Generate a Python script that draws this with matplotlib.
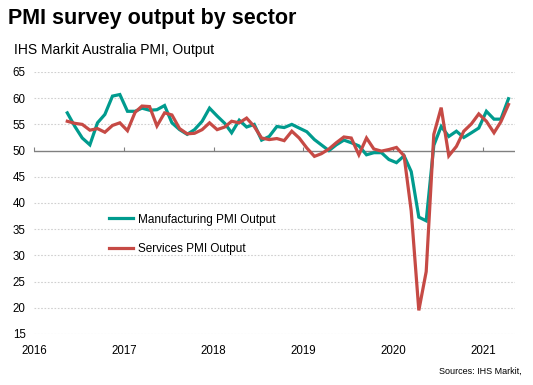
import matplotlib
matplotlib.use("Agg")
import matplotlib.pyplot as plt
import pandas as pd

plt.rcParams['font.family'] = ['Liberation Sans', 'DejaVu Sans']

# Monthly data, May 2016 - Apr 2021
months = pd.date_range('2016-05-01', '2021-04-01', freq='MS')

manufacturing = [
    57.2, 54.6, 52.4, 51.1, 55.3, 56.9, 60.4, 60.7,
    57.5, 57.5, 58.1, 57.7, 57.8, 58.6, 55.3, 54.0, 53.1, 54.0, 55.6, 58.1,
    56.6, 55.2, 53.4, 55.8, 54.5, 55.0, 52.0, 52.7, 54.6, 54.4, 55.0, 54.3,
    53.6, 52.1, 51.1, 50.0, 51.1, 52.0, 51.5, 50.9, 49.2, 49.6, 49.6, 48.3,
    47.7, 49.0, 46.0, 37.3, 36.6, 51.0, 54.6, 52.7, 53.7, 52.5, 53.4, 54.3,
    57.5, 56.0, 56.0, 59.9,
]
services = [
    55.6, 55.2, 55.0, 53.9, 54.2, 53.5, 54.8, 55.3,
    53.8, 57.3, 58.5, 58.4, 54.7, 57.2, 56.8, 54.2, 53.2, 53.3, 54.0, 55.3,
    54.0, 54.5, 55.6, 55.3, 56.2, 54.6, 52.4, 52.1, 52.3, 51.9, 53.7, 52.4,
    50.5, 48.9, 49.4, 50.3, 51.5, 52.6, 52.4, 49.2, 52.4, 50.3, 49.9, 50.2,
    50.6, 49.0, 38.5, 19.5, 26.9, 53.1, 58.2, 49.0, 50.8, 53.7, 55.1, 57.0,
    55.6, 53.4, 55.5, 58.8,
]
series_names = ['Manufacturing PMI Output', 'Services PMI Output']
years = [2016, 2017, 2018, 2019, 2020, 2021]
yticks = list(range(15, 70, 5))

green = '#009B8E'
red = '#C64A45'

fig = plt.figure(figsize=(5.33, 3.85), dpi=100)
ax = fig.add_axes([0.064, 0.1325, 0.902, 0.6805])

x = months + pd.Timedelta(days=14)
ax.plot(x, manufacturing, color=green, lw=2.3, label=series_names[0], solid_joinstyle='miter')
ax.plot(x, services, color=red, lw=2.3, label=series_names[1], solid_joinstyle='miter')

ax.set_ylim(15, 65)
ax.set_xlim(pd.Timestamp('2016-01-01'), pd.Timestamp('2021-05-11'))
ax.set_yticks(yticks)
for v in yticks:
    if v != 50:
        ax.axhline(v, color='#d0d0d0', lw=0.8, ls=(0, (1.5, 1.5)), zorder=0)
ax.axhline(50, color='#808080', lw=1.0, zorder=1)

ticks = [pd.Timestamp(f'{y}-01-01') for y in years]
ax.set_xticks(ticks)
ax.set_xticklabels([str(y) for y in years])
ax.tick_params(axis='x', length=0, labelsize=8.3, pad=8)
ax.tick_params(axis='y', length=0, labelsize=8.3, pad=6)
for s in ax.spines.values():
    s.set_visible(False)

sec = ax.secondary_xaxis((50 - 15) / (65 - 15))
sec.set_xticks(ticks)
sec.tick_params(axis='x', direction='out', length=3, color='#808080', labelbottom=False, labeltop=False, width=0.8)
sec.spines['bottom'].set_visible(False)
sec.spines['top'].set_visible(False)

leg = ax.legend(loc='upper left', bbox_to_anchor=(0.133, 0.50), frameon=False,
                fontsize=8.5, handlelength=2.1, handletextpad=0.35, labelspacing=1.5)

fig.text(0.015, 0.953, 'PMI survey output by sector', fontsize=15.5, fontweight='bold', va='center')
fig.text(0.026, 0.87, 'IHS Markit Australia PMI, Output', fontsize=10, va='center')
fig.text(0.978, 0.036, 'Sources: IHS Markit,', fontsize=6.5, ha='right', va='center')

fig.savefig('out.png', dpi=100)
